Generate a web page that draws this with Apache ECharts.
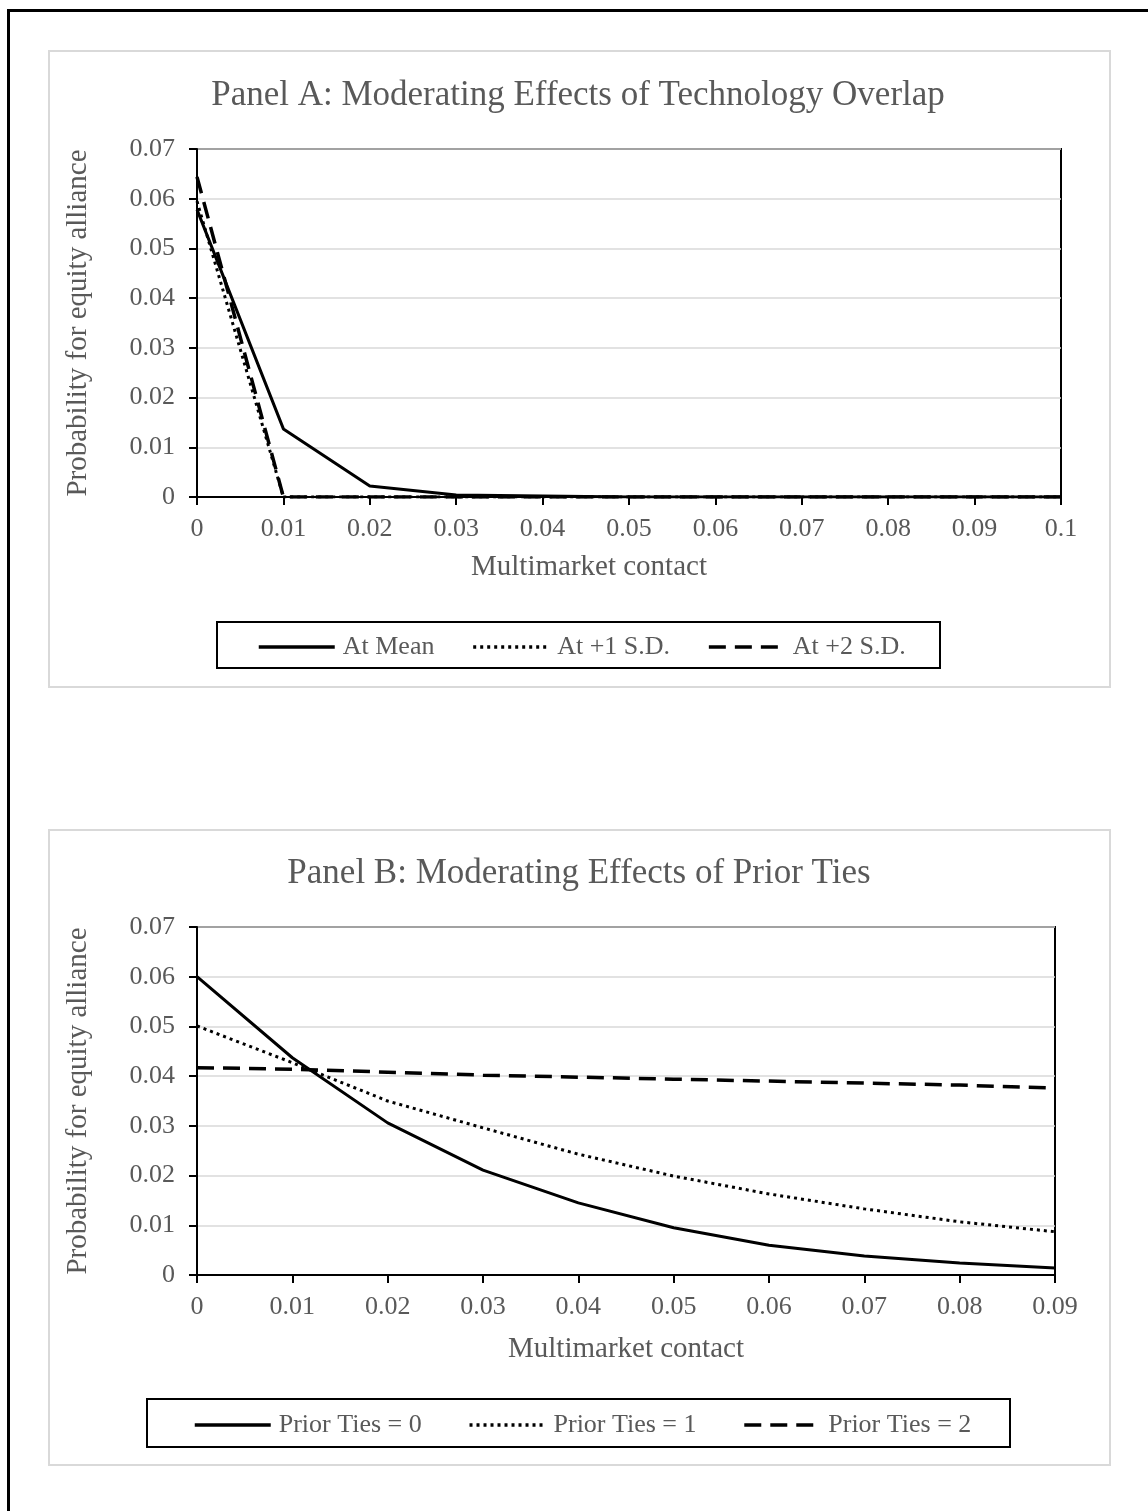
<!DOCTYPE html>
<html>
<head>
<meta charset="utf-8">
<script src="https://cdn.jsdelivr.net/npm/echarts@6/dist/echarts.min.js"></script>
<style>
html,body{margin:0;padding:0;background:#fff;}
#chart{width:1148px;height:1511px;}
</style>
</head>
<body>
<div id="chart"></div>
<script>
// ---- Panel A data ----
var xA = [0, 0.01, 0.02, 0.03, 0.04, 0.05, 0.06, 0.07, 0.08, 0.09, 0.1];
var atMean = [0.0578, 0.0137, 0.0022, 0.0004, 0.0002, 0, 0, 0, 0, 0, 0];
var atSD1  = [0.0595, 0, 0, 0, 0, 0, 0, 0, 0, 0, 0];
var atSD2  = [0.0644, 0, 0, 0, 0, 0, 0, 0, 0, 0, 0];
var namesA = ['At Mean', 'At +1 S.D.', 'At +2 S.D.'];

// ---- Panel B data ----
var xB = [0, 0.01, 0.02, 0.03, 0.04, 0.05, 0.06, 0.07, 0.08, 0.09];
var ties0 = [0.0600, 0.0437, 0.0306, 0.0211, 0.0145, 0.0095, 0.0060, 0.0038, 0.0024, 0.0014];
var ties1 = [0.0501, 0.0427, 0.0350, 0.0296, 0.0243, 0.0199, 0.0163, 0.0133, 0.0107, 0.0087];
var ties2 = [0.0417, 0.0414, 0.0408, 0.0402, 0.0398, 0.0394, 0.0390, 0.0386, 0.0382, 0.0376];
var namesB = ['Prior Ties = 0', 'Prior Ties = 1', 'Prior Ties = 2'];

var titleA = 'Panel A: Moderating Effects of Technology Overlap';
var titleB = 'Panel B: Moderating Effects of Prior Ties';
var xTitle = 'Multimarket contact';
var yTitle = 'Probability for equity alliance';

function pairs(xs, ys){ return xs.map(function(x,i){ return [x, ys[i]]; }); }

var FONT = '"Liberation Serif", "Times New Roman", serif';
var GRAY = '#595959';

var solid = {color:'#000', width:3, type:'solid'};
var dotted = {color:'#000', width:3, type:[3,4], cap:'butt'};
var dashed = {color:'#000', width:3.5, type:[17,9], cap:'butt'};

function xAxisCfg(grid, max, gap, pad){
  return {
    type:'value', gridIndex:grid, min:0, max:max, interval:0.01,
    name:xTitle, nameLocation:'middle', nameGap:gap,
    nameTextStyle:{color:GRAY, fontFamily:FONT, fontSize:29, padding:pad},
    axisLine:{show:true, lineStyle:{color:'#000', width:2}},
    axisTick:{show:true, inside:false, length:8, lineStyle:{color:'#000', width:2}},
    axisLabel:{color:GRAY, fontFamily:FONT, fontSize:26, margin:19},
    splitLine:{show:false}
  };
}
function yAxisCfg(grid){
  return {
    type:'value', gridIndex:grid, min:0, max:0.07, interval:0.01,
    name:yTitle, nameLocation:'middle', nameGap:104, nameRotate:90,
    nameTextStyle:{color:GRAY, fontFamily:FONT, fontSize:29},
    axisLine:{show:true, lineStyle:{color:'#000', width:2}},
    axisTick:{show:true, inside:false, length:8, lineStyle:{color:'#000', width:2}},
    axisLabel:{color:GRAY, fontFamily:FONT, fontSize:26, margin:22},
    splitLine:{show:true, lineStyle:{color:'#d9d9d9', width:1.5}}
  };
}
function legendCfg(names, left, top, gap){
  return {
    data:names, left:left, top:top, padding:0, itemWidth:76, itemHeight:14, itemGap:gap,
    itemStyle:{opacity:0},
    lineStyle:{width:3.5},
    textStyle:{color:GRAY, fontFamily:FONT, fontSize:26, padding:[0,0,0,3]}
  };
}

var chart = echarts.init(document.getElementById('chart'), null, {renderer:'canvas'});
chart.setOption({
  animation:false,
  backgroundColor:'#fff',
  title:[
    {text:titleA, left:578, top:78, textAlign:'center', padding:0,
     textStyle:{color:GRAY, fontFamily:FONT, fontSize:35, fontWeight:'normal'}},
    {text:titleB, left:579, top:856, textAlign:'center', padding:0,
     textStyle:{color:GRAY, fontFamily:FONT, fontSize:35, fontWeight:'normal'}}
  ],
  graphic:[
    {type:'rect', shape:{x:8.5, y:10.5, width:1300, height:1700}, style:{fill:null, stroke:'#000', lineWidth:3}, silent:true},
    {type:'rect', shape:{x:49, y:51, width:1061, height:636}, style:{fill:null, stroke:'#d9d9d9', lineWidth:2}, silent:true},
    {type:'rect', shape:{x:49, y:830, width:1061, height:635}, style:{fill:null, stroke:'#d9d9d9', lineWidth:2}, silent:true},
    {type:'rect', shape:{x:217, y:622, width:723, height:46}, style:{fill:null, stroke:'#000', lineWidth:2}, silent:true},
    {type:'rect', shape:{x:147, y:1399, width:863, height:48}, style:{fill:null, stroke:'#000', lineWidth:2}, silent:true}
  ],
  legend:[ legendCfg(namesA, 257, 634, 37), legendCfg(namesB, 193, 1412, 46) ],
  grid:[
    {left:197, top:149, width:864, height:348, show:true, borderColor:'#000', borderWidth:2, backgroundColor:'transparent'},
    {left:197, top:927, width:858, height:348, show:true, borderColor:'#000', borderWidth:2, backgroundColor:'transparent'}
  ],
  xAxis:[ xAxisCfg(0, 0.1, 56, [0,80,0,0]), xAxisCfg(1, 0.09, 60, [0,0,0,0]) ],
  yAxis:[ yAxisCfg(0), yAxisCfg(1) ],
  series:[
    {name:namesA[0], type:'line', xAxisIndex:0, yAxisIndex:0, data:pairs(xA, atMean), symbol:'none', lineStyle:solid, itemStyle:{color:'#000'}, z:5},
    {name:namesA[1], type:'line', xAxisIndex:0, yAxisIndex:0, data:pairs(xA, atSD1), symbol:'none', lineStyle:dotted, itemStyle:{color:'#000'}, z:4},
    {name:namesA[2], type:'line', xAxisIndex:0, yAxisIndex:0, data:pairs(xA, atSD2), symbol:'none', lineStyle:dashed, itemStyle:{color:'#000'}, z:3},
    {name:namesB[0], type:'line', xAxisIndex:1, yAxisIndex:1, data:pairs(xB, ties0), symbol:'none', lineStyle:solid, itemStyle:{color:'#000'}},
    {name:namesB[1], type:'line', xAxisIndex:1, yAxisIndex:1, data:pairs(xB, ties1), symbol:'none', lineStyle:dotted, itemStyle:{color:'#000'}},
    {name:namesB[2], type:'line', xAxisIndex:1, yAxisIndex:1, data:pairs(xB, ties2), symbol:'none', lineStyle:dashed, itemStyle:{color:'#000'}}
  ]
});
</script>
</body>
</html>
